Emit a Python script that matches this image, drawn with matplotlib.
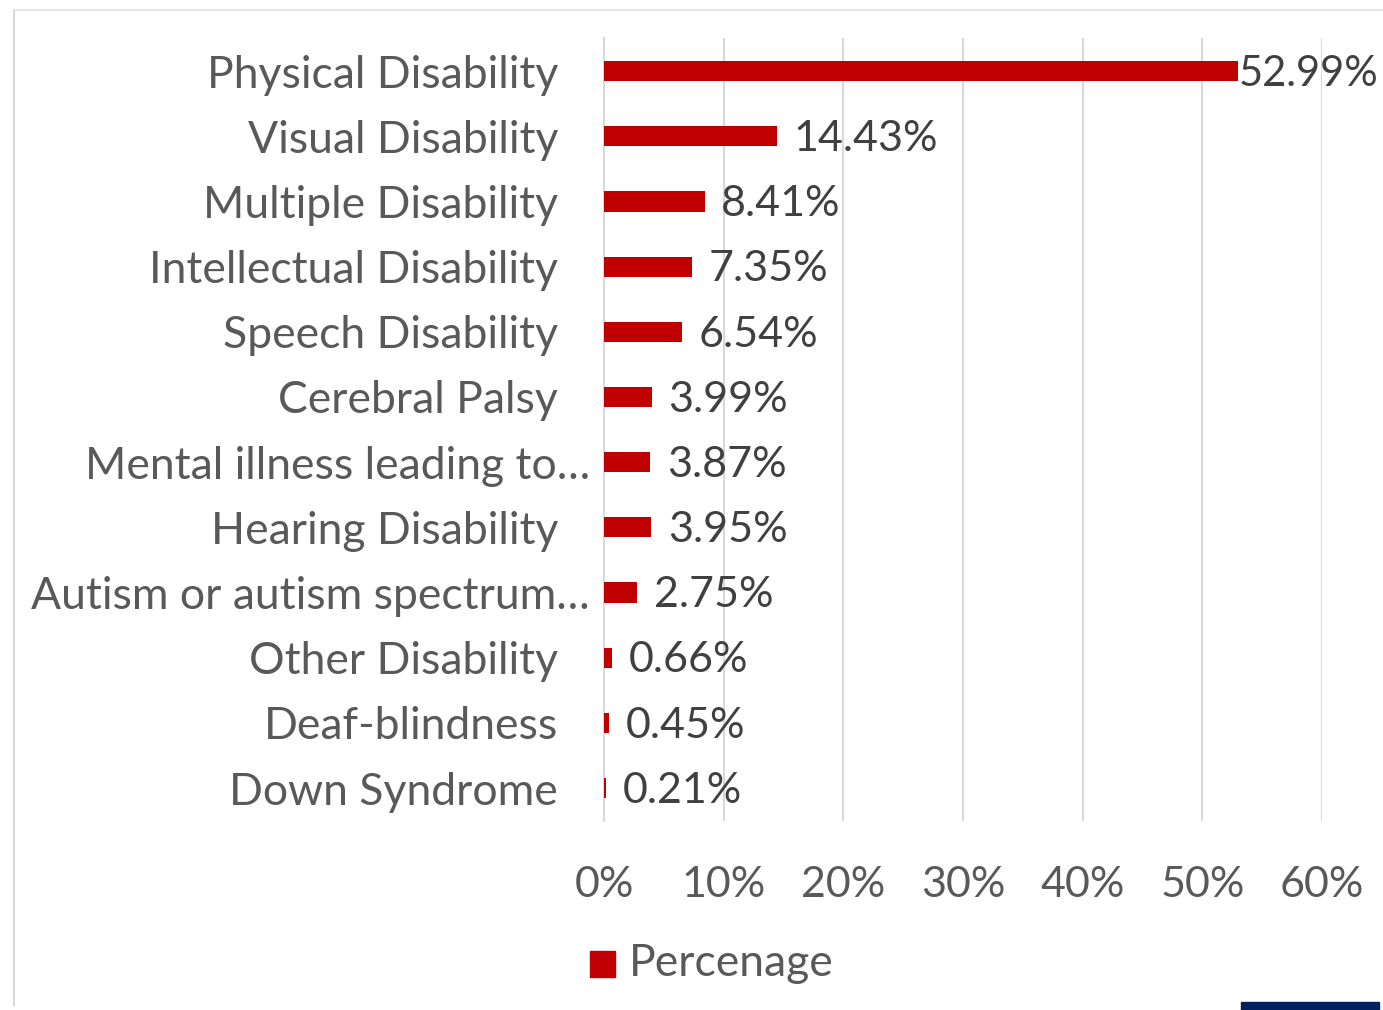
import matplotlib
matplotlib.use('Agg')
import matplotlib.pyplot as plt
import matplotlib.transforms as mtransforms
from matplotlib.patches import Rectangle

categories = ['Physical Disability', 'Visual Disability', 'Multiple Disability',
              'Intellectual Disability', 'Speech Disability', 'Cerebral Palsy',
              'Mental illness leading to…', 'Hearing Disability',
              'Autism or autism spectrum…', 'Other Disability', 'Deaf-blindness',
              'Down Syndrome']
percentages = [52.99, 14.43, 8.41, 7.35, 6.54, 3.99, 3.87, 3.95, 2.75, 0.66, 0.45, 0.21]
x_ticks = [0, 10, 20, 30, 40, 50, 60]
series_name = 'Percenage'

plt.rcParams['font.family'] = ['Lato', 'DejaVu Sans']

red = '#C00000'
label_grey = '#595959'
value_grey = '#404040'

fig = plt.figure(figsize=(13.83, 10.10), dpi=100)
ax = fig.add_axes([0.4367, 0.1875, 0.5192, 0.7744])

ypos = list(range(len(categories)))
ax.barh(ypos, percentages, height=0.31, color=red, zorder=3)
ax.set_ylim(len(categories) - 0.5, -0.5)
ax.set_xlim(0, 60)

ax.set_xticks(x_ticks)
ax.set_xticklabels([f'{t}%' for t in x_ticks])
ax.set_yticks(ypos)
ax.set_yticklabels(categories)
ax.tick_params(axis='both', length=0, labelcolor=label_grey)
ax.tick_params(axis='y', pad=33, labelsize=32)
ax.tick_params(axis='x', pad=33, labelsize=31)

# labels cut with an ellipsis sit further right, as in the source
for lbl in ax.get_yticklabels():
    if lbl.get_text().endswith('…'):
        lbl.set_transform(lbl.get_transform() +
                          mtransforms.ScaledTranslation(32 / 100, 0, fig.dpi_scale_trans))

ax.grid(axis='x', color='#D9D9D9', linewidth=1.5, zorder=0)
for s in ['top', 'right', 'bottom']:
    ax.spines[s].set_visible(False)
ax.spines['left'].set_color('#D9D9D9')
ax.spines['left'].set_linewidth(1.5)

for y, v in zip(ypos, percentages):
    # the longest bar's label is squeezed against the bar to stay inside the chart
    if v > 50:
        off, fs = 0.5, 30
    else:
        off, fs = 12, 31
    ax.annotate(f'{v:.2f}%', (v, y), xytext=(off, -2), textcoords='offset points',
                ha='left', va='center', fontsize=fs, color=value_grey, zorder=4)

# legend
fig.patches.append(Rectangle((590 / 1383, 1 - 977 / 1010), 25 / 1383, 26 / 1010,
                             transform=fig.transFigure, color=red))
fig.text(629 / 1383, 1 - 964 / 1010, series_name, fontsize=32, color=label_grey,
         ha='left', va='center')

# chart frame and accent line
fig.add_artist(plt.Line2D([14 / 1383, 14 / 1383], [0.005, 1 - 10 / 1010],
                          color='#D9D9D9', linewidth=1.5))
fig.add_artist(plt.Line2D([14 / 1383, 1.0], [1 - 10 / 1010, 1 - 10 / 1010],
                          color='#E6E6E6', linewidth=1.5))
fig.patches.append(Rectangle((1241 / 1383, 0), 138 / 1383, 8 / 1010,
                             transform=fig.transFigure, color='#002060'))

fig.savefig('out.png', dpi=100)
